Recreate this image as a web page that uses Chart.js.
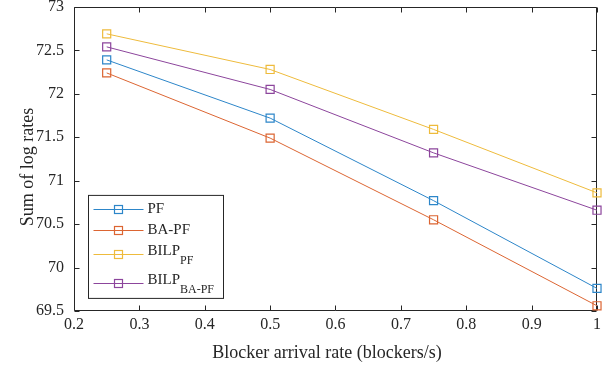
<!DOCTYPE html>
<html>
<head>
<meta charset="utf-8">
<script src="https://cdn.jsdelivr.net/npm/chart.js@4/dist/chart.umd.min.js"></script>
<style>
  html, body { margin: 0; padding: 0; background: #fff; overflow: hidden; }
  #wrap { position: absolute; left: 0; top: 0; width: 605px; height: 369px; }
</style>
</head>
<body>
<div id="wrap"><canvas id="c"></canvas></div>
<script>
// Blocker arrival rate (blockers/s) on the x axis
const arrivalRates = [0.25, 0.5, 0.75, 1];

// Sum of log rates for each scheme
const pfValues       = [72.39, 71.72, 70.77, 69.76];
const baPfValues     = [72.24, 71.49, 70.55, 69.56];
const bilpPfValues   = [72.69, 72.28, 71.59, 70.86];
const bilpBaPfValues = [72.54, 72.05, 71.32, 70.66];

// Series names: main text plus subscript
const seriesMain = ['PF', 'BA-PF', 'BILP', 'BILP'];
const seriesSub  = ['', '', 'PF', 'BA-PF'];

// Tick values
const xTickValues = [0.2, 0.3, 0.4, 0.5, 0.6, 0.7, 0.8, 0.9, 1];
const yTickValues = [69.5, 70, 70.5, 71, 71.5, 72, 72.5, 73];

const xTitle = 'Blocker arrival rate (blockers/s)';
const yTitle = 'Sum of log rates';

const colors = ['#2d86c9', '#dc6532', '#eebb3c', '#8c459c'];
const allValues = [pfValues, baPfValues, bilpPfValues, bilpBaPfValues];

const SERIF = '"Liberation Serif", "Times New Roman", Times, serif';
const AXIS_COLOR = '#262626';

const datasets = allValues.map((vals, i) => ({
  label: seriesMain[i] + (seriesSub[i] ? '_' + seriesSub[i] : ''),
  data: arrivalRates.map((x, k) => ({ x, y: vals[k] })),
  borderColor: colors[i],
  backgroundColor: 'rgba(0,0,0,0)',
  borderWidth: 1,
  pointStyle: 'rect',
  pointRadius: 5.7,
  pointBorderWidth: 1.2,
  pointBorderColor: colors[i],
  pointBackgroundColor: 'rgba(0,0,0,0)',
  tension: 0,
  clip: false
}));

// Axis box with inward tick marks on all four sides
const framePlugin = {
  id: 'frame',
  beforeDatasetsDraw(chart) {
    const { ctx, chartArea: a, scales: { x, y } } = chart;
    const L = Math.round(a.left) + 0.5, R = Math.round(a.right) - 0.5;
    const T = Math.round(a.top) + 0.5, B = Math.round(a.bottom) - 0.5;
    const len = 5;
    ctx.save();
    ctx.strokeStyle = AXIS_COLOR;
    ctx.lineWidth = 1;
    ctx.beginPath();
    ctx.rect(L, T, R - L, B - T);
    xTickValues.forEach(v => {
      const px = Math.round(x.getPixelForValue(v)) + 0.5;
      ctx.moveTo(px, B); ctx.lineTo(px, B - len);
      ctx.moveTo(px, T); ctx.lineTo(px, T + len);
    });
    yTickValues.forEach(v => {
      const py = Math.round(y.getPixelForValue(v)) + 0.5;
      ctx.moveTo(L, py); ctx.lineTo(L + len, py);
      ctx.moveTo(R, py); ctx.lineTo(R - len, py);
    });
    ctx.stroke();
    ctx.restore();
  }
};

// Axis titles and the legend (with subscripted names)
const annotatePlugin = {
  id: 'annotate',
  afterDraw(chart) {
    const { ctx, chartArea: a } = chart;
    ctx.save();
    ctx.fillStyle = AXIS_COLOR;
    ctx.font = '18px ' + SERIF;
    ctx.textAlign = 'center';
    ctx.textBaseline = 'middle';
    ctx.fillText(xTitle, a.left + 253, a.bottom + 42);
    ctx.save();
    ctx.translate(a.left - 46, a.top + 160);
    ctx.rotate(-Math.PI / 2);
    ctx.fillText(yTitle, 0, 0);
    ctx.restore();

    // legend box
    const bx = a.left + 14.5, by = a.top + 188.5, bw = 135, bh = 103;
    ctx.fillStyle = '#fff';
    ctx.fillRect(bx, by, bw, bh);
    ctx.strokeStyle = AXIS_COLOR;
    ctx.lineWidth = 1;
    ctx.strokeRect(bx, by, bw, bh);

    const rows = [14, 35, 59, 88];
    rows.forEach((dy, i) => {
      const ly = Math.round(by + dy) + 0.5;
      ctx.strokeStyle = colors[i];
      ctx.lineWidth = 1;
      ctx.beginPath();
      ctx.moveTo(bx + 5, ly);
      ctx.lineTo(bx + 55, ly);
      ctx.stroke();
      ctx.lineWidth = 1.2;
      ctx.strokeRect(bx + 26, ly - 4, 8, 8);

      ctx.fillStyle = AXIS_COLOR;
      ctx.textAlign = 'left';
      ctx.textBaseline = 'middle';
      ctx.font = '15px ' + SERIF;
      const tx = bx + 59;
      if (!seriesSub[i]) {
        ctx.fillText(seriesMain[i], tx, ly);
      } else {
        ctx.fillText(seriesMain[i], tx, ly - 3);
        const w = ctx.measureText(seriesMain[i]).width;
        ctx.font = '12px ' + SERIF;
        ctx.fillText(seriesSub[i], tx + w, ly + 6);
      }
    });
    ctx.restore();
  }
};

new Chart(document.getElementById('c'), {
  type: 'line',
  data: { datasets },
  plugins: [framePlugin, annotatePlugin],
  options: {
    responsive: true,
    maintainAspectRatio: false,
    animation: false,
    layout: { padding: { top: 5, right: 8, left: 0, bottom: 0 } },
    plugins: { legend: { display: false }, tooltip: { enabled: false } },
    scales: {
      x: {
        type: 'linear',
        min: 0.2,
        max: 1,
        grid: { display: false, drawTicks: false },
        border: { display: false },
        afterBuildTicks: s => { s.ticks = xTickValues.map(v => ({ value: v })); },
        afterFit: s => { s.height = 58; s.paddingLeft = 0; s.paddingRight = 0; },
        ticks: {
          padding: 4,
          color: AXIS_COLOR,
          font: { family: SERIF, size: 16 },
          maxRotation: 0,
          callback: v => String(v)
        }
      },
      y: {
        type: 'linear',
        min: 69.5,
        max: 73,
        grid: { display: false, drawTicks: false },
        border: { display: false },
        afterBuildTicks: s => { s.ticks = yTickValues.map(v => ({ value: v })); },
        afterFit: s => { s.width = 74; s.paddingTop = 0; s.paddingBottom = 0; },
        ticks: {
          padding: 10,
          color: AXIS_COLOR,
          font: { family: SERIF, size: 16 },
          callback: v => String(v)
        }
      }
    }
  }
});
</script>
</body>
</html>
